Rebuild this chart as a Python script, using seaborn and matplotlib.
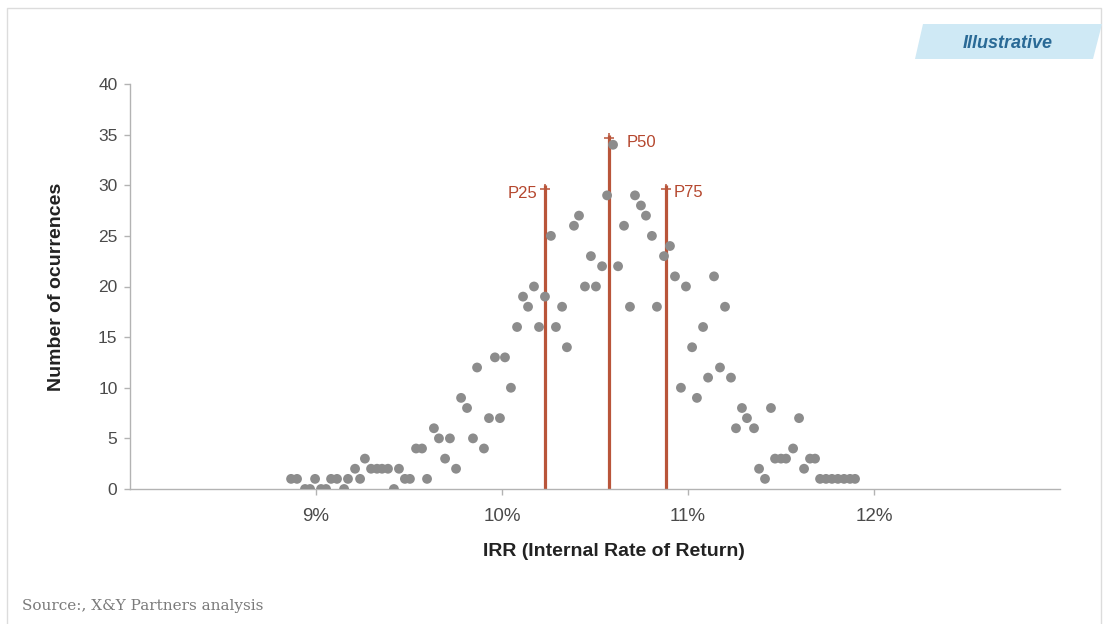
import matplotlib
matplotlib.use("Agg")
import matplotlib.pyplot as plt
from matplotlib.patches import Polygon, Rectangle
import pandas as pd
import seaborn as sns

# Simulated IRR outcomes: bin centre (%) and number of occurrences
irr_pct = [
    8.866, 8.898, 8.941, 8.968, 8.995, 9.027, 9.054, 9.081, 9.113, 9.151,
    9.172, 9.210, 9.237, 9.263, 9.296, 9.328, 9.355, 9.387, 9.419, 9.446,
    9.478, 9.505, 9.538, 9.570, 9.597, 9.634, 9.661, 9.694, 9.720, 9.753,
    9.780, 9.812, 9.844, 9.866, 9.903, 9.930, 9.962, 9.989, 10.016, 10.048,
    10.081, 10.113, 10.140, 10.172, 10.199, 10.231, 10.263, 10.290, 10.323, 10.349,
    10.387, 10.414, 10.446, 10.478, 10.505, 10.538, 10.565, 10.597, 10.624, 10.656,
    10.688, 10.715, 10.747, 10.774, 10.806, 10.833, 10.871, 10.903, 10.930, 10.962,
    10.989, 11.022, 11.048, 11.081, 11.108, 11.140, 11.172, 11.199, 11.231, 11.258,
    11.290, 11.317, 11.355, 11.382, 11.414, 11.446, 11.468, 11.500, 11.527, 11.565,
    11.597, 11.624, 11.656, 11.683, 11.710, 11.742, 11.774, 11.806, 11.839, 11.871,
    11.898,
]
occurrences = [
    1, 1, 0, 0, 1, 0, 0, 1, 1, 0,
    1, 2, 1, 3, 2, 2, 2, 2, 0, 2,
    1, 1, 4, 4, 1, 6, 5, 3, 5, 2,
    9, 8, 5, 12, 4, 7, 13, 7, 13, 10,
    16, 19, 18, 20, 16, 19, 25, 16, 18, 14,
    26, 27, 20, 23, 20, 22, 29, 34, 22, 26,
    18, 29, 28, 27, 25, 18, 23, 24, 21, 10,
    20, 14, 9, 16, 11, 21, 12, 18, 11, 6,
    8, 7, 6, 2, 1, 8, 3, 3, 3, 4,
    7, 2, 3, 3, 1, 1, 1, 1, 1, 1,
    1,
]

# Percentile markers
pct_labels = ["P25", "P50", "P75"]
pct_irr = [10.23, 10.575, 10.88]
pct_height = [30, 35, 30]

x_ticks = [9, 10, 11, 12]
x_tick_labels = ["9%", "10%", "11%", "12%"]
y_ticks = [0, 5, 10, 15, 20, 25, 30, 35, 40]

sns.set_style("white")
plt.rcParams["font.family"] = ["Liberation Sans", "DejaVu Sans"]

W, H = 1108, 624
fig = plt.figure(figsize=(W / 100, H / 100), dpi=100)
ax = fig.add_axes([130 / W, 1 - 489 / H, 930 / W, 405 / H])

df = pd.DataFrame({"irr": irr_pct, "count": occurrences})

rust = "#b9553a"
ax.vlines(pct_irr, 0, pct_height, color=rust, lw=2.3, zorder=2)
ax.plot(pct_irr, [h - 0.35 for h in pct_height], ls="none", marker="+",
        ms=7, mew=1.1, color=rust, zorder=2)

sns.scatterplot(data=df, x="irr", y="count", ax=ax, color="#8c8c8c", s=50,
                edgecolor="none", linewidth=0, zorder=3, legend=False)

# label placement (points offset from the top of each line)
label_offsets = [(-5, -6, "right"), (13, -6, "left"), (6, -5, "left")]
for lbl, xv, hv, (dx, dy, ha) in zip(pct_labels, pct_irr, pct_height, label_offsets):
    ax.annotate(lbl, (xv, hv), xytext=(dx, dy), textcoords="offset points",
                ha=ha, va="center", fontsize=12, color="#b5472e", zorder=4)

ax.set_xlim(8, 13)
ax.set_ylim(0, 40)
ax.set_xticks(x_ticks)
ax.set_xticklabels(x_tick_labels)
ax.set_yticks(y_ticks)

for side in ("top", "right"):
    ax.spines[side].set_visible(False)
for side in ("left", "bottom"):
    ax.spines[side].set_color("#b3b3b3")
    ax.spines[side].set_linewidth(1.0)

ax.tick_params(axis="y", direction="out", length=4, width=1, color="#b3b3b3",
               pad=5, labelsize=12.5, labelcolor="#4a4a4a", left=True)
ax.tick_params(axis="x", direction="out", length=4.5, width=1, color="#b3b3b3",
               pad=9, labelsize=13.5, labelcolor="#4a4a4a", bottom=True)

ax.set_xlabel("IRR (Internal Rate of Return)", fontsize=14, fontweight="bold",
              color="#222222", va="center")
ax.xaxis.set_label_coords(0.52, -(552 - 489) / 405)
ax.set_ylabel("Number of ocurrences", fontsize=14, fontweight="bold",
              color="#222222", va="center")
ax.yaxis.set_label_coords((57 - 130) / 930, 0.5)

# card border
fig.patches.append(Rectangle((7 / W, -0.05), (1101 - 7) / W, 1.05 - 8 / H,
                             transform=fig.transFigure, fill=False,
                             edgecolor="#dcdcdc", lw=1.0))

# "Illustrative" badge
badge = [(923, 24), (1102, 24), (1093, 59), (915, 59)]
fig.patches.append(Polygon([(x / W, 1 - y / H) for x, y in badge], closed=True,
                           transform=fig.transFigure, facecolor="#cfe9f5",
                           edgecolor="none"))
fig.text(1008 / W, 1 - 43 / H, "Illustrative", ha="center", va="center",
         fontsize=13, fontweight="bold", fontstyle="italic", color="#2a6a96")

fig.text(22 / W, 1 - 606 / H, "Source:, X&Y Partners analysis", ha="left",
         va="center", family=["DejaVu Serif"], fontsize=11, color="#7a7a7a")

fig.savefig("out.png", dpi=100)
